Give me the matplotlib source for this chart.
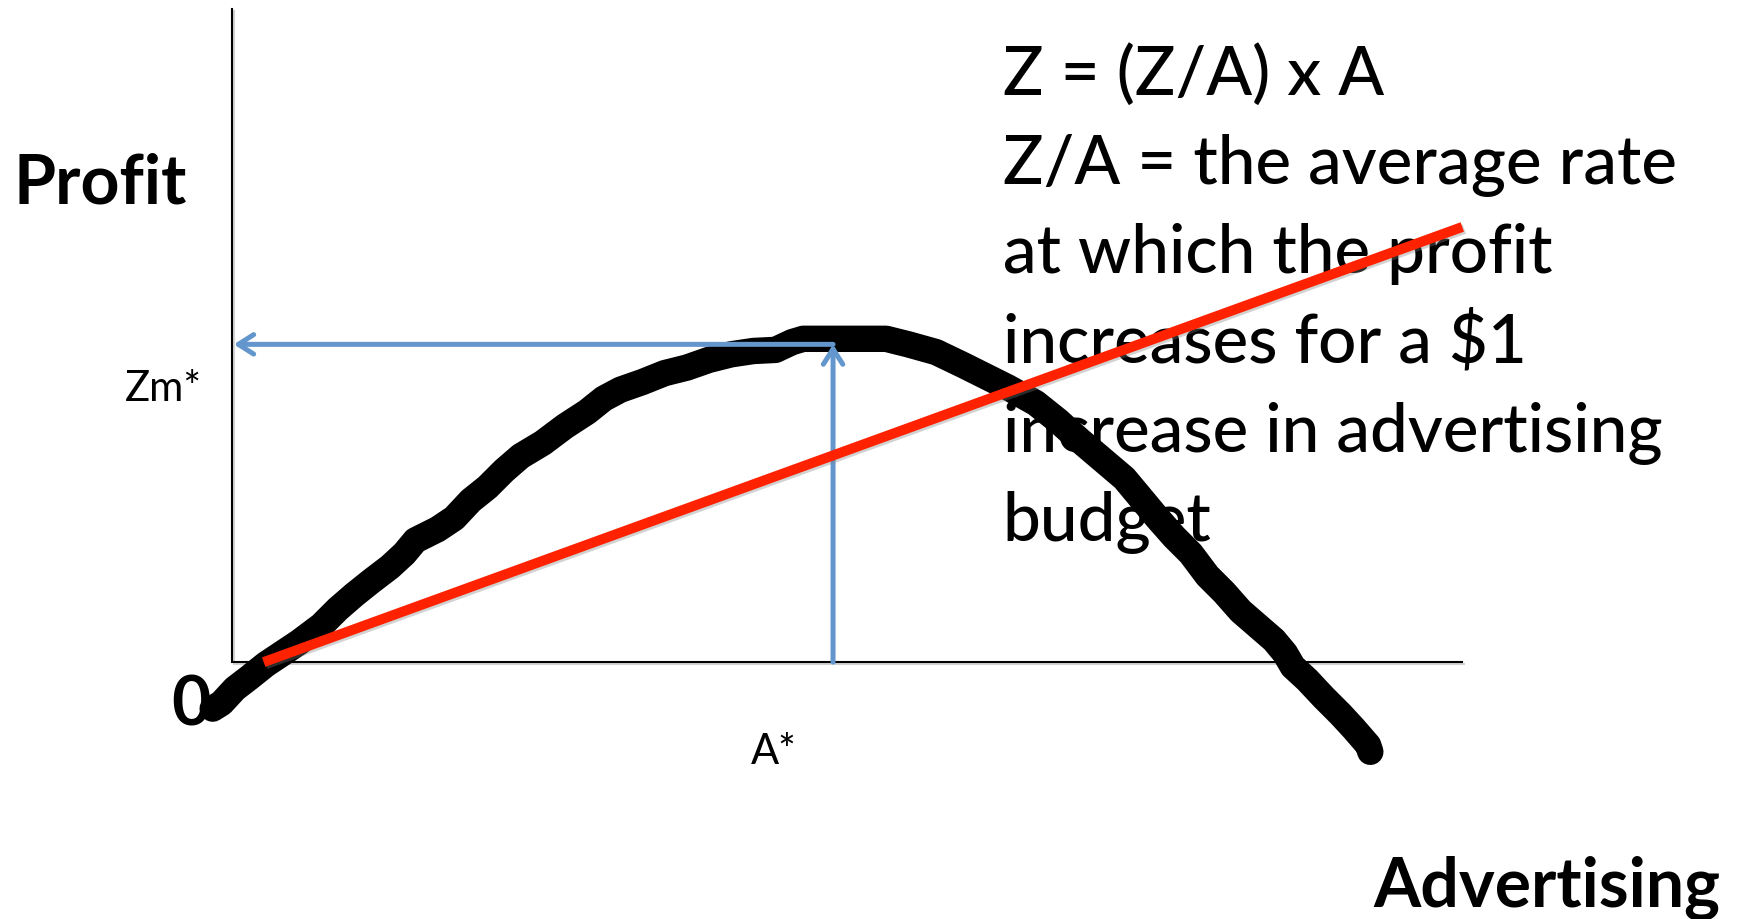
import numpy as np
import matplotlib
matplotlib.use("Agg")
import matplotlib.pyplot as plt
import matplotlib.patheffects as pe

# profit curve, hand drawn (advertising, profit)
adv = [-1.7, -0.9, 0.3, 1.6, 3.1, 4.6, 6.1, 8.1, 9.6, 11.1, 12.6, 14.3, 15.6, 16.6,
       18.6, 20.1, 21.6, 23.1, 24.6, 26.1, 28.1, 30.1, 32.1, 33.6, 35.1, 37.1, 39.1,
       41.1, 43.1, 45.1, 47.1, 49.1, 50.6, 51.6, 59.1, 61.1, 63.6, 66.1, 68.1, 70.1,
       72.6, 74.6, 76.6, 78.6, 80.6, 82.1, 83.6, 85.1, 86.6, 88.1, 89.6, 91.1, 92.6,
       94.1, 95.1, 95.8, 97.1, 98.6, 100.1, 101.3, 102.6, 102.8]
profit = [-4.2, -3.7, -2.4, -1.4, -0.2, 0.8, 1.8, 3.3, 4.8, 6.1, 7.3, 8.6, 9.8, 11.0,
          12.0, 13.0, 14.6, 15.8, 17.3, 18.6, 19.8, 21.3, 22.6, 23.8, 24.6, 25.3, 26.1,
          26.6, 27.3, 27.8, 28.1, 28.2, 28.9, 29.2, 29.2, 28.7, 28.0, 26.8, 25.8, 24.8,
          23.4, 21.8, 20.0, 18.3, 16.6, 14.8, 13.0, 11.3, 9.8, 7.8, 6.3, 4.6, 3.3,
          2.0, 0.8, -0.4, -1.6, -3.2, -4.7, -6.0, -7.5, -8.1]

# average rate line Z/A
rate_x = [2.9, 111.1]
rate_y = [0.0, 39.3]

# optimum
a_star = 54.3
zm_star = 28.7

x_axis_end = 111.1
y_axis_end = 59.0

note_lines = ["Z = (Z/A) x A",
              "Z/A = the average rate",
              "at which the profit",
              "increases for a $1",
              "increase in advertising",
              "budget"]

blue = "#6296CD"
red = "#FF2200"

fig = plt.figure(figsize=(17.37, 9.19), dpi=100)
ax = fig.add_axes([0, 0, 1, 1])
ax.set_xlim(-20.9, 135.9)
ax.set_ylim(-23.2, 59.8)
ax.axis("off")

shadow = [pe.SimpleLineShadow(offset=(1.5, -1.5), shadow_color="gray", alpha=0.35), pe.Normal()]

# axes
ax.plot([0, 0, x_axis_end], [y_axis_end, 0, 0], color="black", lw=1.5,
        solid_joinstyle="miter", zorder=1, path_effects=shadow)

# text block
font = "Lato"
for i, line in enumerate(note_lines):
    ax.text(69.6, 51.2 - i * 8.05, line, fontsize=48.5, family=font, fontweight="medium",
            ha="left", va="baseline", zorder=2)

# profit curve
ax.plot(adv, profit, color="black", lw=19, solid_capstyle="round",
        solid_joinstyle="round", zorder=3)

# arrows to A* and Zm*
for start, end in [((a_star, 0), (a_star, zm_star)), ((a_star, zm_star), (0.2, zm_star))]:
    ax.annotate("", xy=end, xytext=start, zorder=4,
                arrowprops=dict(arrowstyle="->,head_length=1.1,head_width=0.7",
                                color=blue, linewidth=3.6, shrinkA=0, shrinkB=0))

# average rate line
ax.plot(rate_x, rate_y, color=red, lw=7.2, solid_capstyle="butt", zorder=5,
        path_effects=shadow)

# labels
ax.text(-19.7, 41.4, "Profit", fontsize=49, fontweight="bold", family=font,
        ha="left", va="baseline")
ax.text(-3.7, -5.7, "0", fontsize=49, fontweight="bold", family=font,
        ha="center", va="baseline")
ax.text(-2.7, 23.6, "Zm*", fontsize=30, family=font, ha="right", va="baseline")
ax.text(46.9, -9.2, "A*", fontsize=30, family=font, ha="left", va="baseline")
ax.text(103.1, -22.1, "Advertising", fontsize=49, fontweight="bold", family=font,
        ha="left", va="baseline")

fig.savefig("out.png", dpi=100)
